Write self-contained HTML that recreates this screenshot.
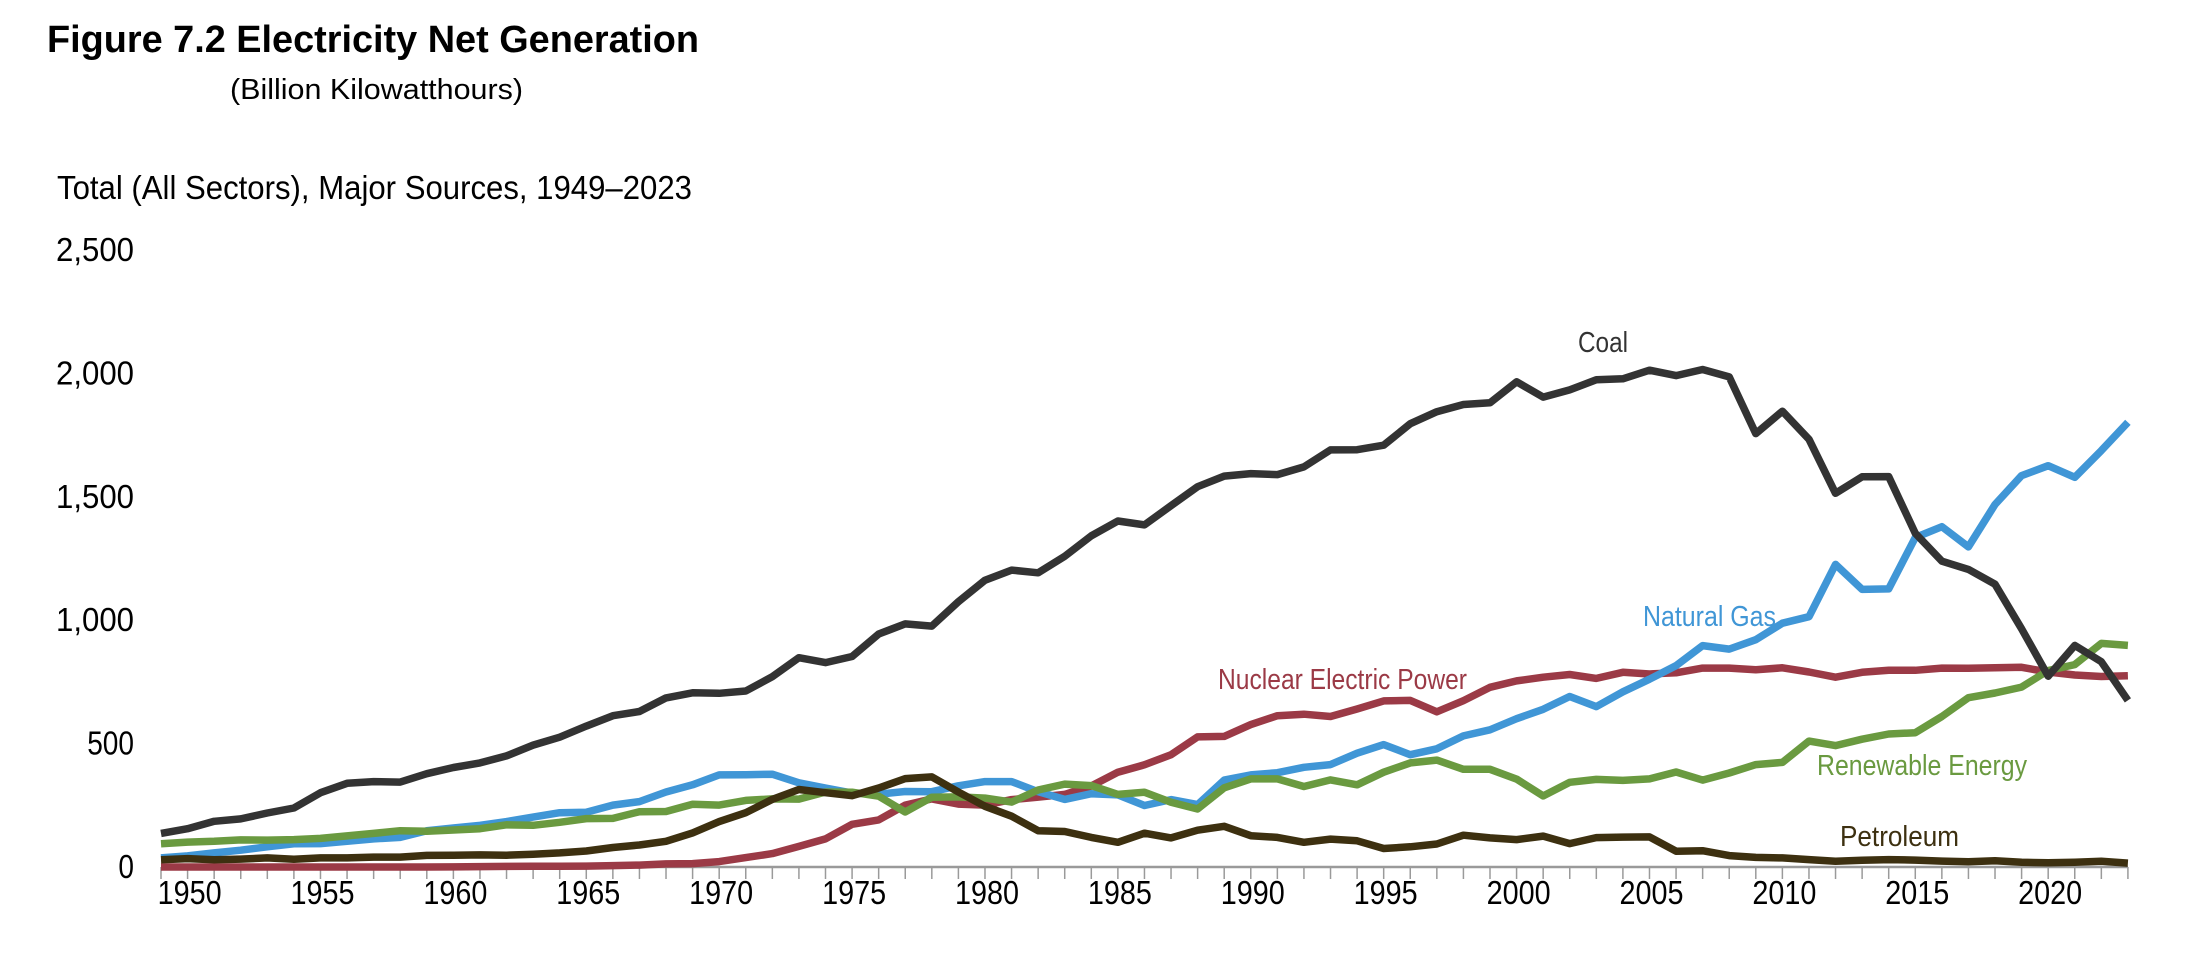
<!DOCTYPE html>
<html><head><meta charset="utf-8"><style>
html,body{margin:0;padding:0;background:#fff;}
svg{display:block;font-family:"Liberation Sans",Arial,sans-serif;}
</style></head><body>
<svg id="chart" width="2204" height="968" viewBox="0 0 2204 968" xmlns="http://www.w3.org/2000/svg">
<text x="47" y="52" font-size="38" font-weight="bold" textLength="652" lengthAdjust="spacingAndGlyphs" fill="#000">Figure 7.2  Electricity Net Generation</text>
<text x="230" y="99" font-size="29" textLength="293" lengthAdjust="spacingAndGlyphs" fill="#000">(Billion Kilowatthours)</text>
<text x="57" y="199" font-size="33" textLength="635" lengthAdjust="spacingAndGlyphs" fill="#000">Total (All Sectors), Major Sources, 1949–2023</text>
<g id="axes"></g>
<g id="series"></g>
<text x="1578" y="352" font-size="29" textLength="50" lengthAdjust="spacingAndGlyphs" fill="#333">Coal</text>
<text x="1643" y="626" font-size="29" textLength="133" lengthAdjust="spacingAndGlyphs" fill="#4096d6">Natural Gas</text>
<text x="1218" y="689" font-size="29" textLength="249" lengthAdjust="spacingAndGlyphs" fill="#9b3a46">Nuclear Electric Power</text>
<text x="1817" y="775" font-size="29" textLength="210" lengthAdjust="spacingAndGlyphs" fill="#6a9a40">Renewable Energy</text>
<text x="1840" y="846" font-size="29" textLength="119" lengthAdjust="spacingAndGlyphs" fill="#3d3010">Petroleum</text>
</svg>
<script>
const startYear = 1949;
const yTicks = [0, 500, 1000, 1500, 2000, 2500];
const yTickLabels = ["0", "500", "1,000", "1,500", "2,000", "2,500"];
const xTickLabels = ["1950","1955","1960","1965","1970","1975","1980","1985","1990","1995","2000","2005","2010","2015","2020"];
const coal = [136,155,185,195,219,239,301,339,346,344,378,403,422,450,494,526,571,613,630,685,706,704,713,771,848,828,853,944,985,976,1075,1162,1203,1192,1259,1342,1402,1386,1464,1541,1584,1594,1590,1621,1690,1691,1709,1796,1845,1874,1881,1966,1904,1933,1974,1978,2013,1991,2016,1986,1756,1847,1733,1514,1581,1582,1352,1239,1206,1146,965,773,898,832,675];
const naturalGas = [37,45,57,68,82,94,95,104,114,120,147,158,169,184,202,220,222,251,265,304,333,373,374,376,341,320,300,295,306,305,329,346,346,305,274,297,292,249,273,253,352,373,382,404,415,461,496,455,479,531,556,601,639,691,650,710,761,816,897,883,921,988,1014,1226,1125,1127,1335,1379,1297,1469,1586,1626,1579,1687,1802];
const nuclear = [0,0,0,0,0,0,0,0,0,0.2,0.2,0.5,1.7,2.3,3.2,3.3,3.7,5.5,7.7,12.5,13.9,21.8,38.1,54.1,83.5,114,173,191,251,276,255,251,273,283,294,328,384,414,455,527,529,577,613,619,610,640,673,675,629,674,728,754,769,780,764,789,782,787,806,806,799,807,790,769,789,797,797,806,805,807,809,790,778,772,775];
const renewable = [94,101,104,110,109,111,116,126,136,147,145,150,155,171,169,181,196,197,224,225,254,251,270,276,275,304,303,287,223,283,284,279,263,312,336,330,294,303,262,235,321,357,357,326,353,333,384,422,433,396,396,356,288,343,355,351,357,385,352,381,415,424,510,492,518,539,544,610,686,705,729,796,820,906,898];
const petroleum = [29,34,29,32,37,31,37,37,40,40,47,48,49,48,52,57,65,79,89,104,138,184,220,274,314,301,289,320,358,365,304,246,206,147,144,120,100,137,118,149,165,127,120,100,113,106,75,82,93,129,118,111,125,95,119,121,122,64,66,46,39,37,30,23,27,30,28,24,21,25,19,17,19,23,16];

const NS = "http://www.w3.org/2000/svg";
const x0 = 161, pxPerYear = 26.58, y0 = 867, pxPerUnit = 617 / 2500;
function xScale(i){ return x0 + i * pxPerYear; }
function yScale(v){ return y0 - v * pxPerUnit; }
const axes = document.getElementById('axes');
yTicks.forEach((v, k) => {
  const t = document.createElementNS(NS, 'text');
  
  
  t.setAttribute('x', 134); t.setAttribute('y', yScale(v) + 11);
  t.setAttribute('font-size', '33'); t.setAttribute('text-anchor', 'end');
  t.setAttribute('textLength', String(yTickLabels[k].length * 15.6));
  t.setAttribute('lengthAdjust', 'spacingAndGlyphs');
  t.textContent = yTickLabels[k];
  axes.appendChild(t);
});
const nYears = coal.length;
const ax = document.createElementNS(NS, 'line');


ax.setAttribute('x1', xScale(0)); ax.setAttribute('x2', xScale(nYears - 1));
ax.setAttribute('y1', y0); ax.setAttribute('y2', y0);
ax.setAttribute('stroke', '#9a9a9a'); ax.setAttribute('stroke-width', '2.5');
axes.appendChild(ax);
for (let i = 0; i < nYears; i++) {
  const tk = document.createElementNS(NS, 'line');
  
  
  tk.setAttribute('x1', xScale(i)); tk.setAttribute('x2', xScale(i));
  tk.setAttribute('y1', y0); tk.setAttribute('y2', y0 + 12);
  tk.setAttribute('stroke', '#9a9a9a'); tk.setAttribute('stroke-width', '1.5');
  axes.appendChild(tk);
}
xTickLabels.forEach(lbl => {
  const t = document.createElementNS(NS, 'text');
  
  
  t.setAttribute('x', xScale(parseInt(lbl) - startYear) - 30); t.setAttribute('y', 904);
  t.setAttribute('font-size', '33');
  t.setAttribute('textLength', '64'); t.setAttribute('lengthAdjust', 'spacingAndGlyphs');
  t.textContent = lbl;
  axes.appendChild(t);
});
const seriesG = document.getElementById('series');
function drawSeries(vals, color, name){
  const p = document.createElementNS(NS, 'polyline');
  
  
  p.setAttribute('points', vals.map((v, i) => xScale(i).toFixed(1) + ',' + yScale(v).toFixed(1)).join(' '));
  p.setAttribute('fill', 'none'); p.setAttribute('stroke', color);
  p.setAttribute('stroke-width', '7.5'); p.setAttribute('stroke-linejoin', 'round');
  seriesG.appendChild(p);
}
drawSeries(nuclear, '#9b3a46', 'nuclear-line');
drawSeries(naturalGas, '#4096d6', 'natural-gas-line');
drawSeries(renewable, '#6a9a40', 'renewable-line');
drawSeries(petroleum, '#3d3010', 'petroleum-line');
drawSeries(coal, '#333333', 'coal-line');
</script>
</body></html>
